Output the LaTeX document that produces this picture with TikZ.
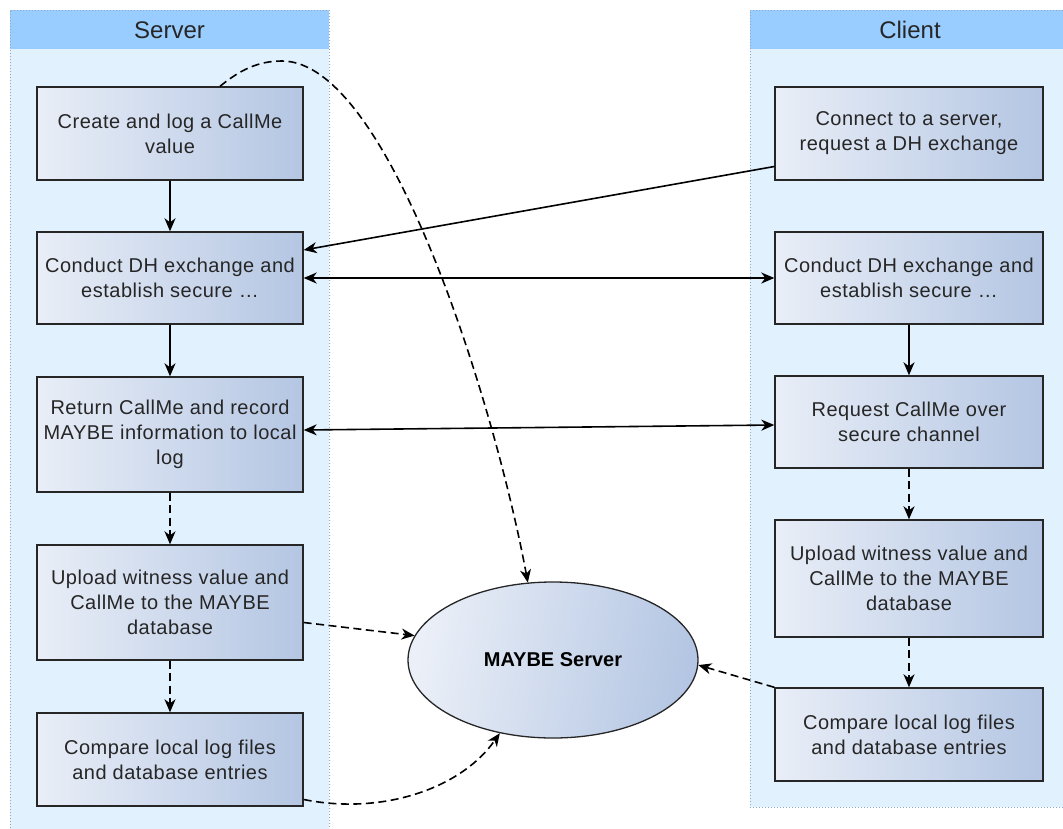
\documentclass[tikz,border=0pt]{standalone}
\usepackage{fontspec}
\setmainfont{Liberation Sans}
\newfontfamily\boxfont[LetterSpace=2.5]{Liberation Sans}
\usetikzlibrary{arrows.meta,shapes.geometric}

\definecolor{lanefill}{HTML}{E1F1FD}
\definecolor{headfill}{HTML}{99CCFF}
\definecolor{laneline}{HTML}{8DA6C6}
\definecolor{boxl}{HTML}{E9EEF7}
\definecolor{boxr}{HTML}{B4C6E3}
\definecolor{txt}{HTML}{262626}

\begin{document}
\begin{tikzpicture}[x=1pt,y=-1pt,
  arr/.tip={Stealth[length=13pt,width=11pt,inset=4pt]},
  stepbox/.style={draw=black!85, line width=1.4pt, left color=boxl, right color=boxr,
    text=txt, font=\boxfont\fontsize{20}{25}\selectfont, align=center, inner sep=0pt},
  srvbox/.style={stepbox, minimum width=266pt},
  clibox/.style={stepbox, minimum width=268pt},
  lanehead/.style={text=txt, font=\fontsize{24}{28}\selectfont, inner sep=0pt},
  flow/.style={-arr, line width=1.6pt},
  dflow/.style={flow, dash pattern=on 8pt off 4.5pt},
  both/.style={arr-arr, line width=1.6pt},
  lane/.style={draw=laneline, line width=0.8pt, dash pattern=on 1pt off 2pt}
]
\useasboundingbox (0,0) rectangle (1063,828);

% swim lanes
\begin{scope}
  \clip (0,0) rectangle (1063,828);
  \fill[lanefill] (10,10) rectangle (329,840);
  \fill[headfill] (10,10) rectangle (329,49);
  \draw[lane] (10,840) -- (10,10) -- (329,10) -- (329,840);
  \fill[lanefill] (750,10) rectangle (1075,807);
  \fill[headfill] (750,10) rectangle (1075,49);
  \draw[lane] (1075,807) -- (750,807) -- (750,10) -- (1075,10);
\end{scope}
\node[lanehead] (hs) at (169.5,30) {Server};
\node[lanehead] (hc) at (910,30) {Client};

% server steps
\node[srvbox, minimum height=93pt] (s1) at (170,133.5) {Create and log a CallMe\\value};
\node[srvbox, minimum height=92pt] (s2) at (170,278) {Conduct DH exchange and\\establish secure \dots};
\node[srvbox, minimum height=115pt] (s3) at (170,434.5) {Return CallMe and record\\MAYBE information to local\\log};
\node[srvbox, minimum height=115pt] (s4) at (170,602.5) {Upload witness value and\\CallMe to the MAYBE\\database};
\node[srvbox, minimum height=93pt] (s5) at (170,759.5) {Compare local log files\\and database entries};

% client steps
\node[clibox, minimum height=93pt] (c1) at (909,133.5) {Connect to a server,\\request a DH exchange};
\node[clibox, minimum height=92pt] (c2) at (909,278) {Conduct DH exchange and\\establish secure \dots};
\node[clibox, minimum height=92pt] (c3) at (909,422) {Request CallMe over\\secure channel};
\node[clibox, minimum height=117pt] (c4) at (909,578.5) {Upload witness value and\\CallMe to the MAYBE\\database};
\node[clibox, minimum height=93pt] (c5) at (909,734.5) {Compare local log files\\and database entries};

% shared server
\node[ellipse, draw=black!85, line width=1.3pt, left color=boxl!90!white, right color=boxr,
  shading angle=80,
  minimum width=290pt, minimum height=156pt, inner sep=0pt, text=black,
  font=\fontsize{20}{24}\selectfont\bfseries] (m) at (553,660) {MAYBE Server};

% server flow
\draw[flow] (s1.south) -- (s2.north);
\draw[flow] (s2.south) -- (s3.north);
\draw[dflow] (s3.south) -- (s4.north);
\draw[dflow] (s4.south) -- (s5.north);

% client flow
\draw[flow] (c2.south) -- (c3.north);
\draw[dflow] (c3.south) -- (c4.north);
\draw[dflow] (c4.south) -- (c5.north);

% exchanges between the parties
\draw[flow] ([yshift=-33pt]c1.west) -- ([yshift=28pt]s2.east);
\draw[both] (s2.east) -- (c2.west);
\draw[both] ([yshift=4.5pt]s3.east) -- ([yshift=-3pt]c3.west);

% uploads to the MAYBE server
\draw[dflow] ([yshift=-20pt]s4.east) -- (m.170);
\draw[dflow] (c5.north west) -- (m.-2);
\draw[dflow] ([yshift=-40pt]s5.east) .. controls (380,815) and (460,790) .. (m.234);
\draw[dflow] ([xshift=50pt]s1.north) .. controls (240,70) and (258,61) .. (282,61)
  .. controls (390,61) and (496,410) .. (m.108);
\end{tikzpicture}
\end{document}
